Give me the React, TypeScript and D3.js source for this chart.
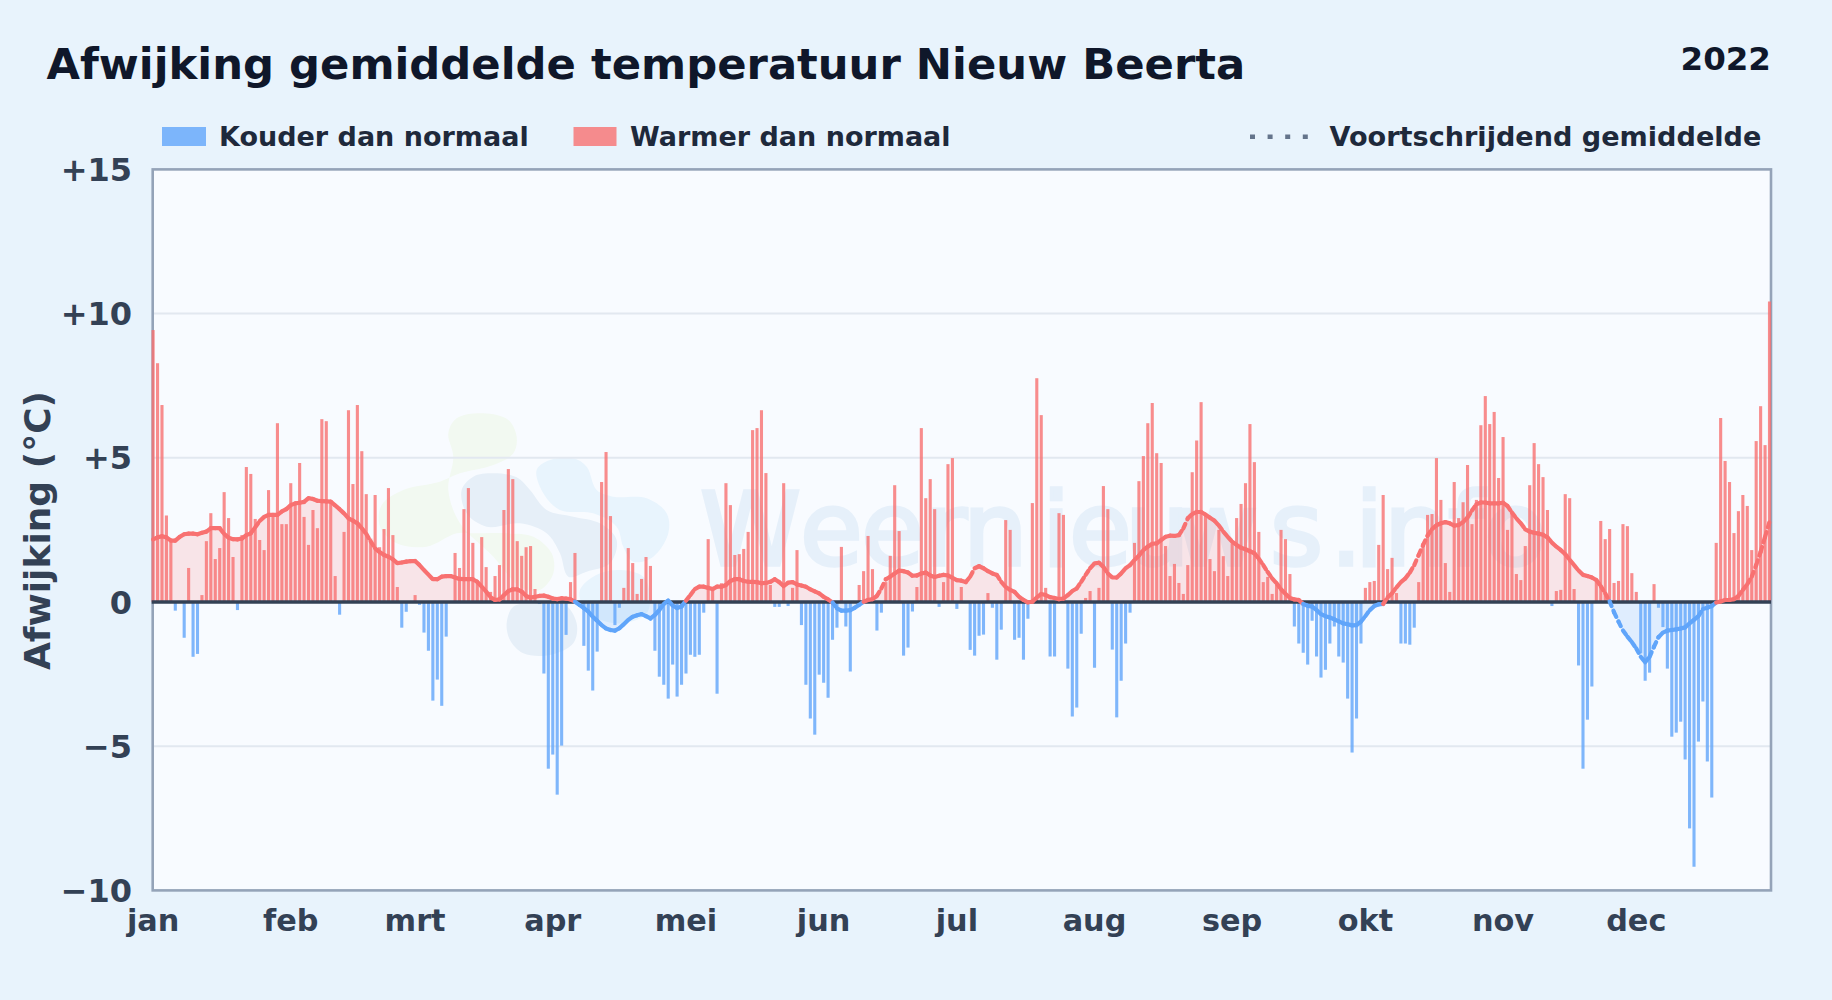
import React from "react";
import * as d3 from "d3";

const WIDTH = 1832;
const HEIGHT = 1000;

const titleText = "Afwijking gemiddelde temperatuur Nieuw Beerta";
const yearText = "2022";
const yAxisTitle = "Afwijking (°C)";
const watermarkText = "Weernieuws.info";
const watermarkGlyphX = [700, 800, 861, 925, 963, 1042, 1069, 1125, 1175, 1270, 1330, 1355, 1384, 1448, 1484];
const monthLabels = ["jan", "feb", "mrt", "apr", "mei", "jun", "jul", "aug", "sep", "okt", "nov", "dec"];
const monthStartDays = [0, 31, 59, 90, 120, 151, 181, 212, 243, 273, 304, 334];
const yTicks = [15, 10, 5, 0, -5, -10];
const yTickLabels = ["+15", "+10", "+5", "0", "−5", "−10"];

// daily deviation from normal
const dailyAnomaly = [
  9.43, 8.28, 6.83, 3.0, 2.15, -0.3, 0, -1.24, 1.18, -1.9,
  -1.8, 0.24, 2.11, 3.08, 1.49, 1.87, 3.81, 2.91, 1.56, -0.28,
  2.32, 4.68, 4.44, 2.88, 2.15, 1.8, 3.88, 3.0, 6.2, 2.7,
  2.7, 4.12, 3.4, 4.82, 2.95, 1.98, 3.19, 2.56, 6.34, 6.27,
  3.5, 0.9, -0.44, 2.43, 6.65, 4.09, 6.83, 5.23, 3.74, 2.2,
  3.71, 1.9, 2.53, 3.95, 2.32, 0.52, -0.89, -0.34, 0, 0.24,
  -0.1, -1.06, -1.69, -3.42, -2.69, -3.6, -1.2, 0, 1.7, 1.18,
  3.22, 3.95, 2.05, 0.7, 2.25, 1.21, 0.35, 0.9, 1.28, 3.19,
  4.61, 4.26, 2.11, 1.6, 1.9, 1.94, 0.45, -0.07, -2.48, -5.78,
  -5.29, -6.68, -4.98, -1.14, 0.69, 1.7, 0, -1.52, -2.38, -3.07,
  -1.72, 4.16, 5.2, 2.98, -0.8, -0.2, 0.49, 1.87, 1.35, 0.28,
  0.8, 1.56, 1.25, -1.69, -2.59, -2.87, -3.35, -2.17, -3.28, -2.87,
  -2.48, -1.83, -1.9, -1.83, -0.37, 2.18, 0.42, -3.18, 0.65, 4.12,
  3.36, 1.63, 1.66, 1.84, 2.43, 5.96, 6.03, 6.65, 4.47, 0.59,
  -0.17, -0.17, 4.12, -0.14, 0.49, 1.8, -0.8, -2.87, -4.04, -4.6,
  -2.52, -2.8, -3.32, -1.31, -0.89, 1.91, -0.85, -2.41, 0, 0.59,
  1.07, 2.29, 1.14, -0.99, -0.37, 0.69, 1.6, 4.05, 2.46, -1.86,
  -1.58, -0.33, 0.52, 6.03, 3.6, 4.26, 3.22, -0.17, 0.69, 4.78,
  4.99, -0.24, 0.52, 0, -1.66, -1.86, -1.17, -1.13, 0.31, -0.2,
  -2.0, -0.96, 2.84, 2.5, -1.31, -1.24, -2.0, -0.58, 3.43, 7.76,
  6.48, 0.49, -1.89, -1.89, 3.08, 3.02, -2.31, -3.97, -3.66, -1.1,
  0.14, 0.38, -2.28, 0.49, 4.02, 3.22, -1.65, -4.0, -2.73, -1.44,
  -0.37, 2.05, 4.19, 5.06, 6.2, 6.9, 5.16, 4.82, 1.94, 0.9,
  1.32, 0.66, 0.28, 1.28, 4.5, 5.6, 6.93, 3.0, 1.49, 1.07,
  2.5, 1.59, 0.9, 2.03, 2.91, 3.4, 4.12, 6.17, 4.85, 2.43,
  0.69, 0.87, 0.28, 0.59, 2.5, 2.18, 0.97, -0.85, -1.44, -1.76,
  -2.17, -0.65, -1.89, -2.62, -2.35, -1.44, -0.85, -1.89, -2.1, -3.35,
  -5.22, -4.04, -1.44, 0.49, 0.69, 0.73, 1.98, 3.71, 1.14, 1.53,
  0.31, -1.44, -1.44, -1.48, -0.89, 0.69, 2.0, 3.02, 3.05, 4.99,
  3.54, 1.35, 0.35, 4.16, 2.91, 3.46, 4.75, 2.7, 3.54, 6.13,
  7.14, 6.17, 6.59, 4.3, 5.72, 2.5, 3.07, 0.97, 0.76, 1.94,
  4.05, 5.51, 4.78, 4.33, 3.19, -0.14, 0.38, 0.42, 3.74, 3.6,
  0.45, -2.2, -5.78, -4.08, -2.93, 0.7, 2.81, 2.18, 2.53, 0.66,
  0.73, 2.7, 2.63, 1.0, 0.35, -1.78, -2.73, -2.45, 0.62, -0.2,
  -0.87, -2.31, -4.67, -4.53, -4.15, -5.46, -7.85, -9.18, -4.84, -3.45,
  -5.53, -6.78, 2.05, 6.38, 4.89, 4.16, 2.39, 3.15, 3.71, 3.33,
  1.8, 5.58, 6.79, 5.44, 10.42,
];

// moving average, also read per day
const rollingMean = [
  2.17, 2.24, 2.28, 2.24, 2.13, 2.13, 2.26, 2.35, 2.37, 2.37,
  2.35, 2.4, 2.44, 2.56, 2.56, 2.56, 2.36, 2.23, 2.18, 2.17,
  2.2, 2.32, 2.38, 2.59, 2.81, 2.95, 3.02, 3.02, 3.02, 3.14,
  3.22, 3.36, 3.42, 3.44, 3.47, 3.6, 3.57, 3.51, 3.5, 3.49,
  3.48, 3.35, 3.22, 3.07, 2.9, 2.82, 2.73, 2.56, 2.36, 2.1,
  1.86, 1.73, 1.63, 1.57, 1.48, 1.35, 1.37, 1.4, 1.42, 1.42,
  1.28, 1.11, 0.95, 0.79, 0.79, 0.88, 0.9, 0.9, 0.85, 0.8,
  0.79, 0.79, 0.79, 0.7, 0.53, 0.36, 0.16, 0.07, 0.09, 0.24,
  0.38, 0.44, 0.44, 0.36, 0.21, 0.15, 0.18, 0.21, 0.22, 0.18,
  0.12, 0.1, 0.13, 0.12, 0.09, 0.01, -0.1, -0.21, -0.33, -0.51,
  -0.65, -0.8, -0.92, -0.97, -0.99, -0.91, -0.77, -0.62, -0.51, -0.46,
  -0.42, -0.49, -0.57, -0.45, -0.28, -0.07, 0.05, -0.12, -0.21, -0.16,
  0.05, 0.24, 0.45, 0.53, 0.53, 0.49, 0.45, 0.53, 0.53, 0.59,
  0.73, 0.79, 0.79, 0.73, 0.7, 0.7, 0.69, 0.65, 0.66, 0.7,
  0.79, 0.69, 0.55, 0.67, 0.69, 0.61, 0.57, 0.53, 0.44, 0.37,
  0.3, 0.18, 0.09, -0.02, -0.22, -0.3, -0.3, -0.28, -0.2, -0.1,
  0.01, 0.07, 0.1, 0.21, 0.47, 0.79, 0.88, 0.99, 1.09, 1.07,
  1.02, 0.91, 0.92, 0.99, 1.02, 0.92, 0.87, 0.91, 0.94, 0.92,
  0.84, 0.76, 0.74, 0.69, 0.88, 1.17, 1.24, 1.17, 1.07, 0.99,
  0.94, 0.7, 0.52, 0.42, 0.35, 0.18, 0.07, -0.01, 0.01, 0.16,
  0.28, 0.24, 0.17, 0.14, 0.1, 0.12, 0.24, 0.38, 0.47, 0.7,
  0.94, 1.17, 1.34, 1.36, 1.22, 0.99, 0.85, 0.85, 0.99, 1.17,
  1.28, 1.46, 1.61, 1.8, 1.92, 2.02, 2.03, 2.15, 2.26, 2.3,
  2.29, 2.32, 2.55, 2.9, 3.05, 3.12, 3.12, 3.03, 2.92, 2.82,
  2.65, 2.44, 2.26, 2.09, 1.98, 1.88, 1.83, 1.76, 1.69, 1.5,
  1.28, 1.04, 0.82, 0.65, 0.44, 0.28, 0.14, 0.09, 0.07, -0.07,
  -0.13, -0.16, -0.28, -0.42, -0.49, -0.54, -0.6, -0.67, -0.74, -0.77,
  -0.81, -0.8, -0.68, -0.49, -0.28, -0.14, -0.08, -0.07, 0.16, 0.3,
  0.51, 0.69, 0.82, 1.02, 1.28, 1.63, 1.98, 2.3, 2.53, 2.66,
  2.73, 2.77, 2.73, 2.65, 2.67, 2.77, 2.93, 3.17, 3.39, 3.45,
  3.45, 3.42, 3.42, 3.42, 3.44, 3.33, 3.1, 2.9, 2.73, 2.52,
  2.44, 2.4, 2.37, 2.33, 2.24, 2.06, 1.92, 1.8, 1.66, 1.46,
  1.28, 1.09, 0.94, 0.9, 0.85, 0.76, 0.55, 0.3, 0.02, -0.36,
  -0.68, -0.99, -1.2, -1.39, -1.61, -1.9, -2.09, -1.9, -1.55, -1.22,
  -1.06, -0.99, -0.97, -0.95, -0.92, -0.88, -0.74, -0.62, -0.49, -0.24,
  -0.2, -0.14, -0.02, 0.02, 0.07, 0.07, 0.1, 0.21, 0.42, 0.62,
  0.88, 1.28, 1.74, 2.26, 2.78,
];

const COLD = "#60a5fa";
const WARM = "#f87171";
const FONT = "'DejaVu Sans', sans-serif";

const plot = { left: 152.7, right: 1771, top: 169.4, bottom: 890.4 };

// faded logo behind the bars, outlines traced in 3x zoom coordinates
const logoBlobs: { color: string; pts: [number, number][] }[] = [
  { color: "#f2f9f1", pts: [[265, 130], [290, 85], [370, 70], [445, 90], [470, 140], [460, 190], [400, 225], [300, 250], [240, 275], [130, 300], [65, 345], [60, 410], [110, 460], [200, 470], [290, 430], [340, 430], [440, 430], [520, 440], [575, 490], [580, 550], [540, 600], [480, 590], [400, 500], [300, 400], [265, 300], [280, 200]] },
  { color: "#e6eff8", pts: [[305, 300], [340, 260], [400, 250], [470, 262], [510, 300], [560, 360], [640, 380], [720, 400], [770, 450], [750, 520], [680, 545], [625, 560], [600, 490], [560, 430], [480, 400], [380, 410], [320, 370]] },
  { color: "#e6eff8", pts: [[440, 700], [460, 650], [520, 640], [610, 640], [650, 700], [640, 760], [570, 795], [490, 790], [450, 750]] },
  { color: "#e8f4fd", pts: [[530, 240], [570, 210], [640, 205], [680, 230], [710, 300], [760, 320], [860, 325], [920, 370], [925, 430], [880, 500], [820, 515], [790, 470], [770, 410], [700, 370], [600, 360], [550, 310]] },
  { color: "#e8f4fd", pts: [[660, 600], [700, 560], [770, 540], [850, 560], [870, 620], [860, 670], [790, 700], [700, 680], [665, 640]] },
];

const App: React.FC = () => {
  const x = d3.scaleLinear().domain([0, 364]).range([plot.left + 0.4, plot.right - 1.5]);
  const y = d3.scaleLinear().domain([-10, 15]).range([plot.bottom, plot.top]);
  const barWidth = 3.1;

  const days = rollingMean.map((v, i) => ({ i, v }));
  const warmArea = d3.area<{ i: number; v: number }>()
    .x((d) => x(d.i)).y0(y(0)).y1((d) => y(Math.max(d.v, 0)));
  const coldArea = d3.area<{ i: number; v: number }>()
    .x((d) => x(d.i)).y0(y(0)).y1((d) => y(Math.min(d.v, 0)));
  const blobLine = d3.line().curve(d3.curveCatmullRomClosed.alpha(0.5));

  return (
    <svg
      width={WIDTH}
      height={HEIGHT}
      viewBox={`0 0 ${WIDTH} ${HEIGHT}`}
      style={{ position: "absolute", left: 0, top: 0, display: "block" }}
      fontFamily={FONT}
      fontWeight="bold"
    >
      <rect width={WIDTH} height={HEIGHT} fill="#e8f3fc" />

      <text x={46.5} y={79} fontSize={43.3} fill="#0f172a">{titleText}</text>
      <text x={1771} y={70} fontSize={32.5} fill="#0f172a" textAnchor="end">{yearText}</text>

      {/* legend */}
      <rect x={162} y={127} width={44} height={19} fill={COLD} fillOpacity={0.8} />
      <text x={219} y={146} fontSize={27} fill="#1e293b">Kouder dan normaal</text>
      <rect x={573.5} y={127} width={43} height={19} fill={WARM} fillOpacity={0.8} />
      <text x={630} y={146} fontSize={27} fill="#1e293b">Warmer dan normaal</text>
      <line x1={1250} x2={1308} y1={136.7} y2={136.7} stroke="#64748b" strokeWidth={4.5} strokeDasharray="5 12.6" />
      <text x={1329.5} y={146} fontSize={27.1} fill="#1e293b">Voortschrijdend gemiddelde</text>

      {/* plot background */}
      <rect x={plot.left} y={plot.top} width={plot.right - plot.left} height={plot.bottom - plot.top} fill="#f8fbff" />

      {/* watermark */}
      <g>
        <g transform="translate(360,390) scale(0.3333)">
          {logoBlobs.map((b, k) => (
            <path key={k} d={blobLine(b.pts) || ""} fill={b.color} />
          ))}
        </g>
        <text x={watermarkGlyphX.join(" ")} y={565} fontSize={102} fontWeight="normal" fill="#e6f0fa" stroke="#e6f0fa" strokeWidth={3.5}>{watermarkText}</text>
      </g>

      {/* grid */}
      {yTicks.filter((t) => t !== 0 && t !== 15 && t !== -10).map((t) => (
        <line key={t} x1={plot.left} x2={plot.right} y1={y(t)} y2={y(t)} stroke="#e2e8f0" strokeWidth={2} />
      ))}

      {/* frame */}
      <rect x={plot.left} y={plot.top} width={plot.right - plot.left} height={plot.bottom - plot.top} fill="none" stroke="#94a3b8" strokeWidth={2.6} />

      {/* moving average fill */}
      <path d={warmArea(days) || ""} fill={WARM} fillOpacity={0.16} />
      <path d={coldArea(days) || ""} fill={COLD} fillOpacity={0.16} />

      {/* daily bars */}
      {dailyAnomaly.map((v, i) => (
        <rect
          key={i}
          x={x(i) - barWidth / 2}
          width={barWidth}
          y={v >= 0 ? y(v) : y(0)}
          height={Math.abs(y(v) - y(0))}
          fill={v >= 0 ? WARM : COLD}
          fillOpacity={0.8}
        />
      ))}

      <line x1={plot.left - 1} x2={plot.right} y1={y(0)} y2={y(0)} stroke="#334155" strokeWidth={3.4} />

      {/* moving average, one segment per day */}
      {d3.pairs(days).map(([a, b]) => (
        <line
          key={a.i}
          x1={x(a.i)}
          y1={y(a.v)}
          x2={x(b.i)}
          y2={y(b.v)}
          stroke={a.v + b.v >= 0 ? WARM : COLD}
          strokeWidth={4.2}
          strokeLinecap="round"
          strokeDasharray="5 5"
        />
      ))}

      {/* axis labels */}
      {yTicks.map((t, k) => (
        <text key={t} x={132} y={y(t) + 11.6} fontSize={32} fill="#334155" textAnchor="end">{yTickLabels[k]}</text>
      ))}
      {monthLabels.map((m, k) => (
        <text key={m} x={x(monthStartDays[k])} y={931} fontSize={30.3} fill="#334155" textAnchor="middle">{m}</text>
      ))}
      <text transform="translate(50,530.5) rotate(-90)" fontSize={36} fill="#334155" textAnchor="middle">{yAxisTitle}</text>
    </svg>
  );
};

export default App;
